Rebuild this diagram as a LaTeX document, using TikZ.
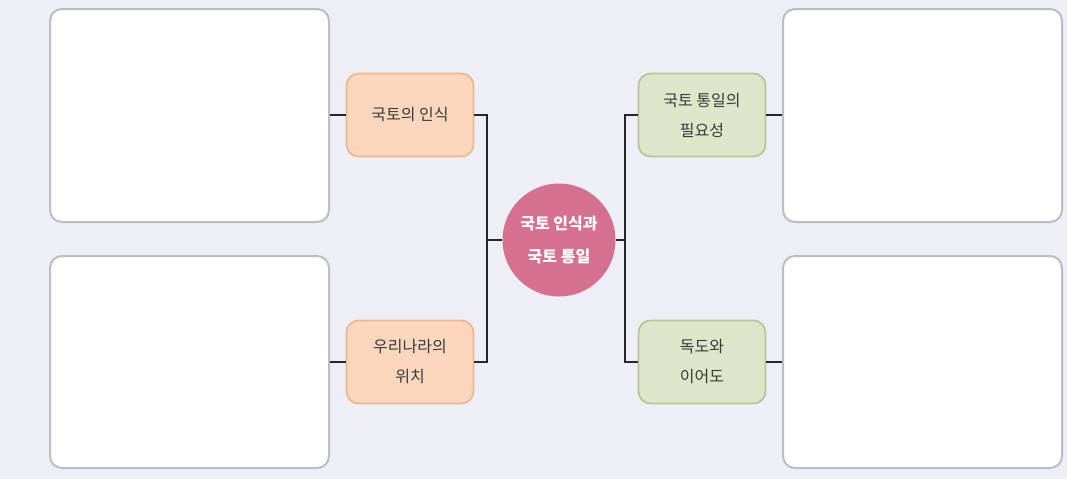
\documentclass[tikz,border=0pt]{standalone}
\usepackage{fontspec}
\newfontfamily\kr{Noto Sans CJK KR}
\definecolor{bgc}{HTML}{EEEEF6}
\definecolor{boxline}{HTML}{BDBDC3}
\definecolor{orfill}{HTML}{FAD7BC}
\definecolor{orline}{HTML}{EDB791}
\definecolor{grfill}{HTML}{DDE6C9}
\definecolor{grline}{HTML}{B6C698}
\definecolor{pinkc}{HTML}{D5708F}
\definecolor{txt}{HTML}{3A3A3A}
\begin{document}
\begin{tikzpicture}[x=1pt,y=-1pt,
  answerbox/.style={draw=boxline,line width=2pt,fill=white,rounded corners=12pt},
  topicbox/.style={line width=1.8pt,rounded corners=12pt,minimum width=127pt,minimum height=83pt,
    align=center,font=\kr\fontsize{16}{30}\selectfont,text=txt,inner sep=0pt},
  orbox/.style={topicbox,draw=orline,fill=orfill},
  grbox/.style={topicbox,draw=grline,fill=grfill},
  conn/.style={draw=black!85,line width=1.3pt}]
\fill[bgc] (0,0) rectangle (1067,479);
\useasboundingbox (0,0) rectangle (1067,479);
% answer boxes
\draw[answerbox] (50,9) rectangle (329,222);
\draw[answerbox] (50,256) rectangle (329,468);
\draw[answerbox] (783,9) rectangle (1062,222);
\draw[answerbox] (783,256) rectangle (1062,468);
\coordinate (tl) at (330,115);
\coordinate (bl) at (330,362);
\coordinate (tr) at (782,115);
\coordinate (br) at (782,362);
% center
\node[circle,fill=pinkc,minimum size=113pt,inner sep=0pt,align=center,text=white,
  font=\kr\bfseries\fontsize{16}{33}\selectfont] (c) at (559,240) {국토 인식과\\국토 통일};
% topic boxes
\node[orbox] (o1) at (410,115) {국토의 인식};
\node[orbox] (o2) at (410,362) {우리나라의\\위치};
\node[grbox] (g1) at (702,115) {국토 통일의\\필요성};
\node[grbox] (g2) at (702,362) {독도와\\이어도};
% connectors
\coordinate (jl) at (487,240);
\coordinate (jr) at (625,240);
\draw[conn] (tl) -- (o1.west);
\draw[conn] (bl) -- (o2.west);
\draw[conn] (o1.east) -| (jl);
\draw[conn] (o2.east) -| (jl);
\draw[conn] (jl) -- (c.west);
\draw[conn] (g1.west) -| (jr);
\draw[conn] (g2.west) -| (jr);
\draw[conn] (c.east) -- (jr);
\draw[conn] (g1.east) -- (tr);
\draw[conn] (g2.east) -- (br);
\end{tikzpicture}
\end{document}
